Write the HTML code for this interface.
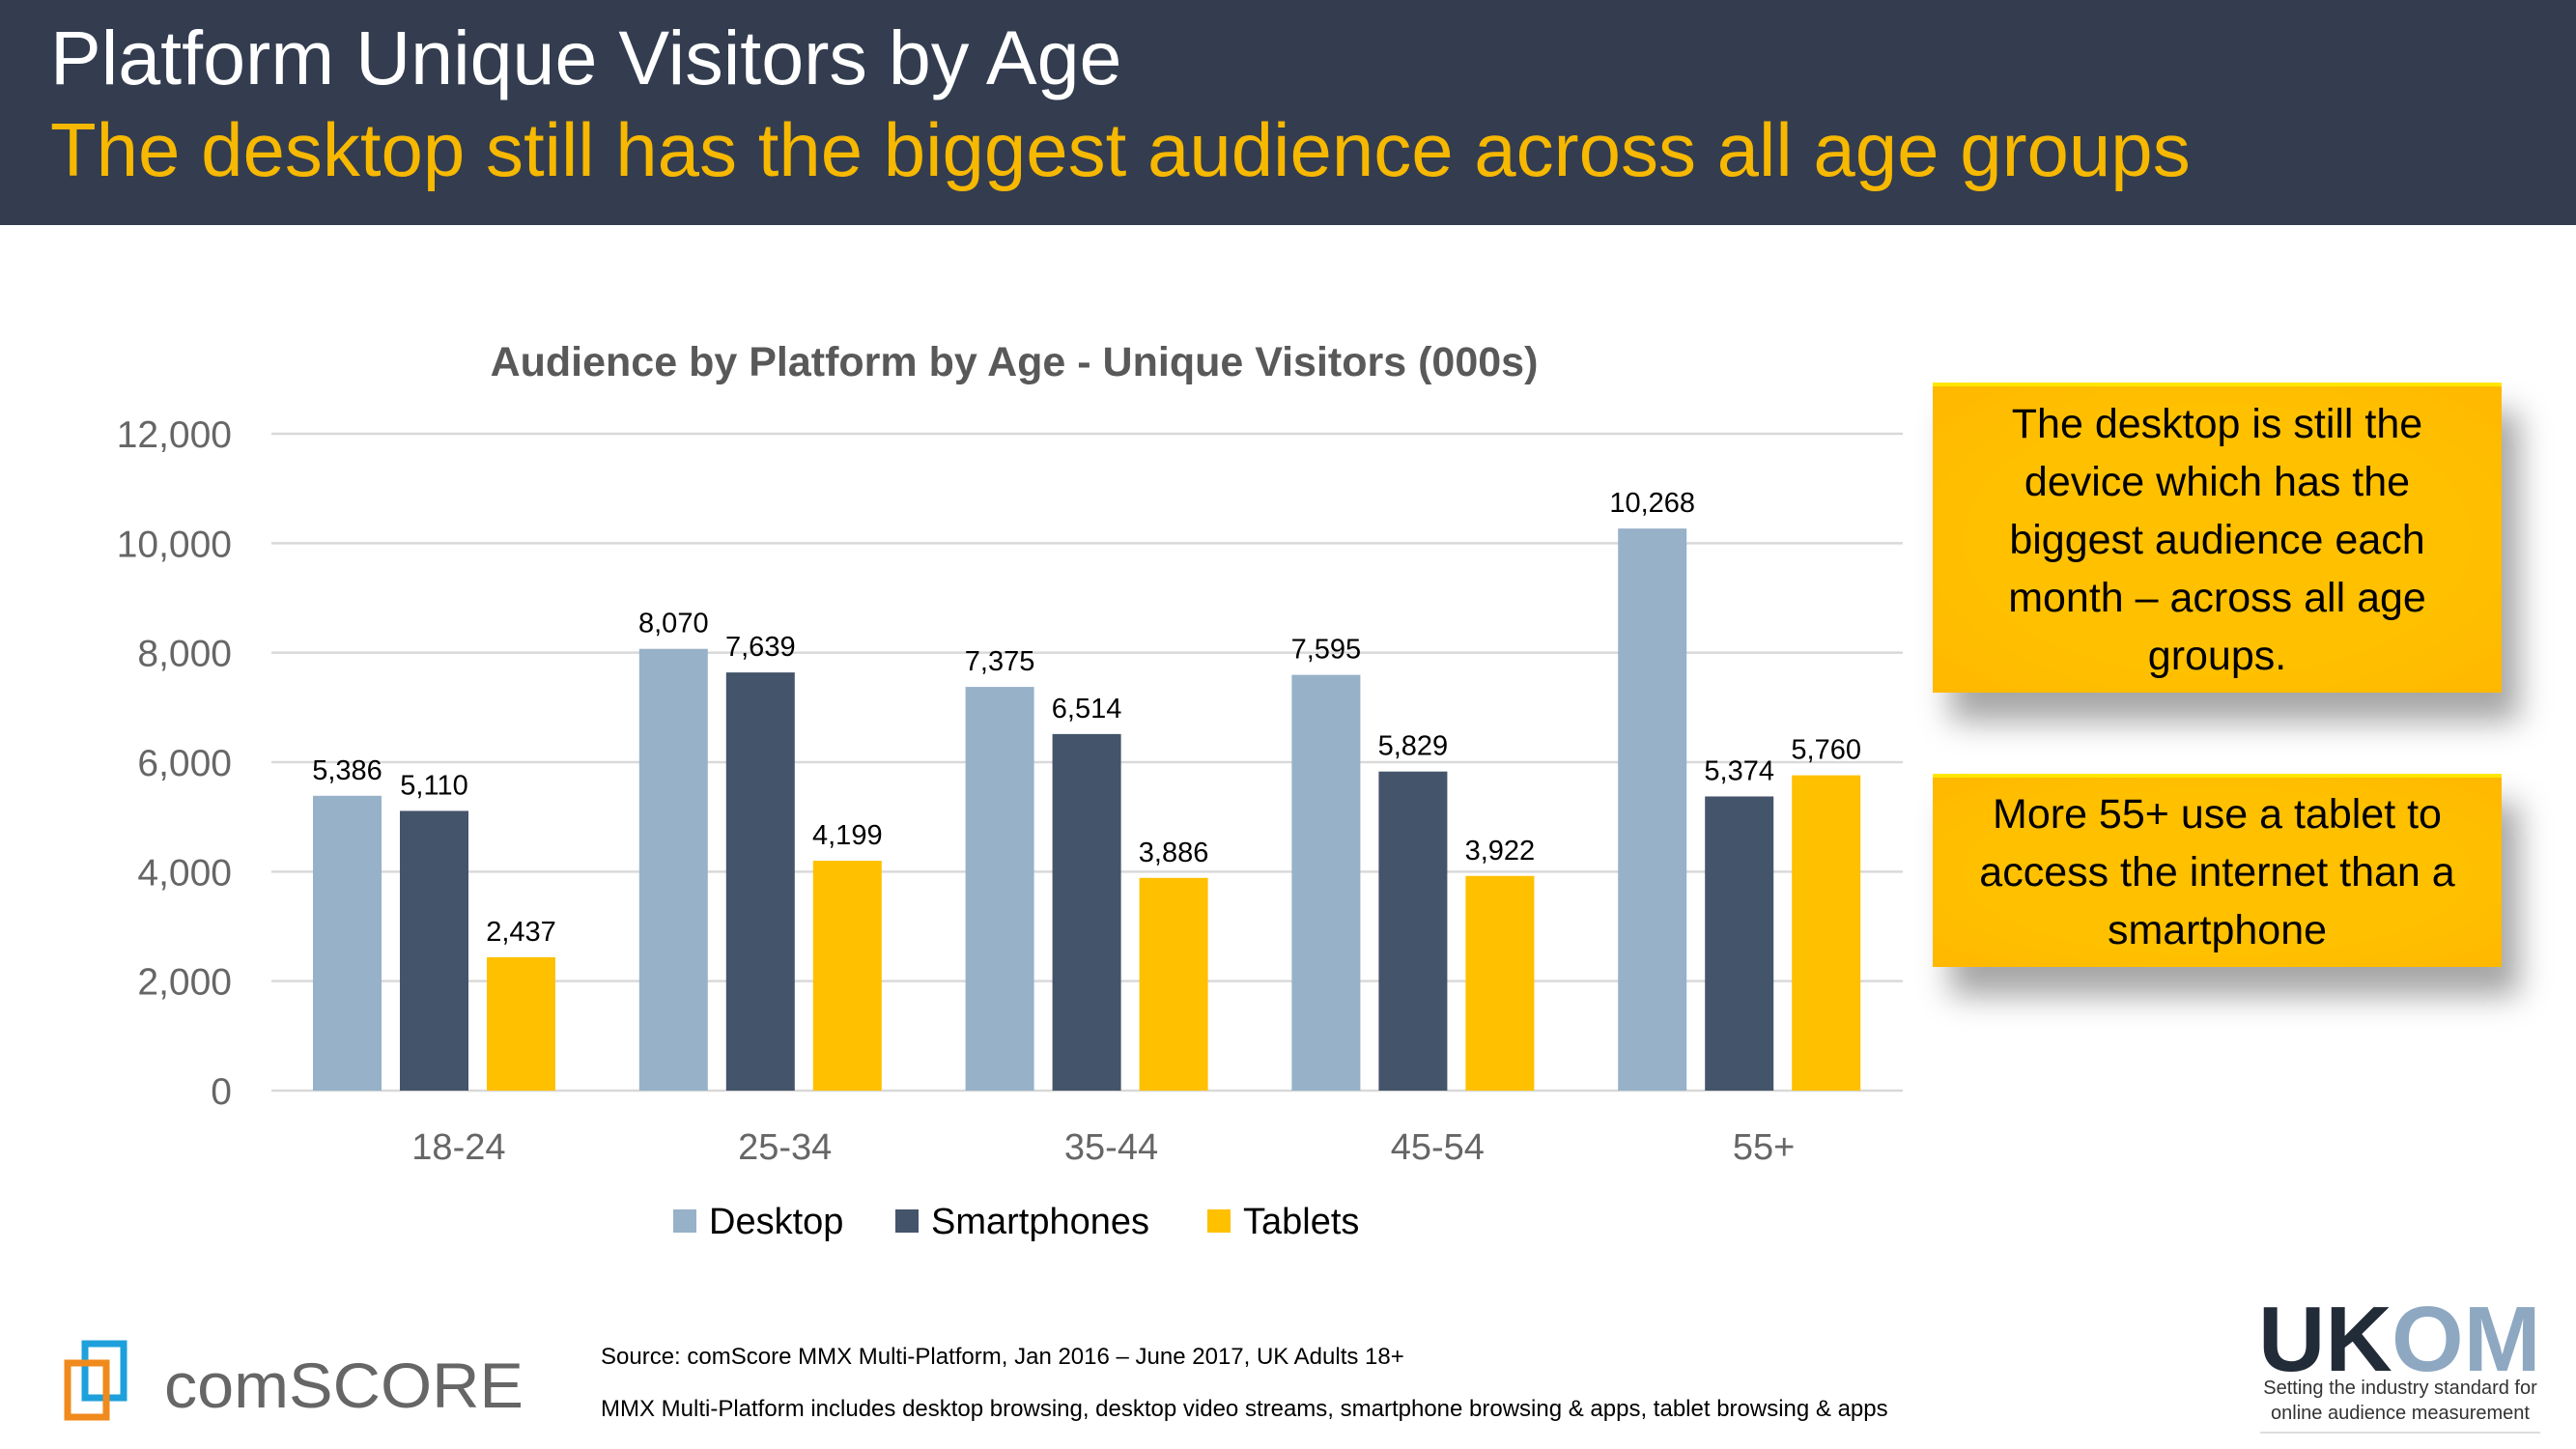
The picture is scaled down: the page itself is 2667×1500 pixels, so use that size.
<!DOCTYPE html>
<html><head><meta charset="utf-8"><style>
html,body{margin:0;padding:0}
body{width:2667px;height:1500px;position:relative;background:#fff;overflow:hidden;font-family:"Liberation Sans",sans-serif}
.hdr{position:absolute;left:0;top:0;width:2667px;height:233px;background:#333d4f}
.t1{position:absolute;left:52px;top:14px;font-size:79px;color:#fff;white-space:nowrap}
.t2{position:absolute;left:52px;top:110px;font-size:78px;color:#f7b800;white-space:nowrap}
.box{position:absolute;left:2001px;width:589px;background:radial-gradient(ellipse at center,#ffc000 60%,#ffb800 100%);box-shadow:18px 30px 30px rgba(0,0,0,0.35);display:flex;align-items:center;justify-content:center;text-align:center;font-size:43px;line-height:60px;color:#000;border-top:4px solid #ffe600}
.foot{position:absolute;left:622px;font-family:"Liberation Sans",Arial,sans-serif;font-size:24px;color:#000;white-space:nowrap}
</style></head><body>
<div class="hdr">
<div class="t1">Platform Unique Visitors by Age</div>
<div class="t2">The desktop still has the biggest audience across all age groups</div>
</div>
<svg id="chart" width="2667" height="1500" style="position:absolute;left:0;top:0"></svg>
<div class="box" style="top:396px;height:317px">The desktop is still the<br>device which has the<br>biggest audience each<br>month – across all age<br>groups.</div>
<div class="box" style="top:801px;height:196px">More 55+ use a tablet to<br>access the internet than a<br>smartphone</div>
<div class="foot" style="top:1391px">Source: comScore MMX Multi-Platform, Jan 2016 – June 2017, UK Adults 18+</div>
<div class="foot" style="top:1445px">MMX Multi-Platform includes desktop browsing, desktop video streams, smartphone browsing &amp; apps, tablet browsing &amp; apps</div>
<svg style="position:absolute;left:60px;top:1385px" width="520" height="90">
<rect x="28" y="6" width="40" height="56" fill="none" stroke="#1ea0dc" stroke-width="7"/>
<rect x="10" y="26" width="40" height="56" fill="none" stroke="#f08a1c" stroke-width="7"/>
<text x="110" y="72" font-family="Liberation Sans" font-size="66" fill="#666" textLength="372" lengthAdjust="spacingAndGlyphs">comSCORE</text>
</svg>
<svg style="position:absolute;left:2330px;top:1335px" width="310" height="150">
<text x="8" y="84" font-family="Liberation Sans" font-weight="bold" font-size="96" fill="#222b38">UK</text>
<text x="146" y="84" font-family="Liberation Sans" font-weight="bold" font-size="96" fill="#8ea8c2">OM</text>
<text x="155" y="108" text-anchor="middle" font-family="Liberation Sans" font-size="20" fill="#333">Setting the industry standard for</text>
<text x="155" y="134" text-anchor="middle" font-family="Liberation Sans" font-size="20" fill="#333">online audience measurement</text>
<line x1="10" y1="148" x2="300" y2="148" stroke="#ddd" stroke-width="2"/>
</svg>
<script>
const categories=["18-24","25-34","35-44","45-54","55+"];
const desktop=[5386,8070,7375,7595,10268];
const smartphones=[5110,7639,6514,5829,5374];
const tablets=[2437,4199,3886,3922,5760];
const yTicks=[0,2000,4000,6000,8000,10000,12000];
const seriesNames=["Desktop","Smartphones","Tablets"];
const colors=["#97b1c9","#44546a","#ffc000"];
const NS="http://www.w3.org/2000/svg";
const svg=document.getElementById("chart");
const x0=281,x1=1970,yTop=449,yBot=1129,yMax=12000;
const y=v=>yBot-(v/yMax)*(yBot-yTop);
const band=(x1-x0)/categories.length;
const bw=71,gap=19;
const x=(ci,si)=>x0+ci*band+43+si*(bw+gap);
function mk(tag,attrs){const e=document.createElementNS(NS,tag);for(const k in attrs)e.setAttribute(k,attrs[k]);svg.appendChild(e);return e;}
const title=mk("text",{x:1050,y:389,"text-anchor":"middle","font-size":43,"font-weight":"bold",fill:"#595959","font-family":"Liberation Sans"});
title.textContent="Audience by Platform by Age - Unique Visitors (000s)";


yTicks.forEach(t=>{
 const g=mk("line",{x1:x0,x2:x1,y1:y(t),y2:y(t),stroke:"#d9d9d9","stroke-width":2.5});
 
 
 const l=mk("text",{x:240,y:y(t)+14,"text-anchor":"end","font-size":39,fill:"#666","font-family":"Liberation Sans"});
 l.textContent=t.toLocaleString("en-US");
 
 
});
const series=[desktop,smartphones,tablets];
series.forEach((s,si)=>{
 s.forEach((v,ci)=>{
  const r=mk("rect",{x:x(ci,si),y:y(v),width:bw,height:yBot-y(v),fill:colors[si]});
  
  
  const t=mk("text",{x:x(ci,si)+bw/2,y:y(v)-17,"text-anchor":"middle","font-size":29,fill:"#000","font-family":"Liberation Sans"});
  t.textContent=v.toLocaleString("en-US");
  
  
 });
});
categories.forEach((c,ci)=>{
 const t=mk("text",{x:x0+ci*band+band/2+25,y:1200,"text-anchor":"middle","font-size":38,fill:"#666","font-family":"Liberation Sans"});
 t.textContent=c;
 
 
});
const legX=[697,927,1250];
seriesNames.forEach((n,i)=>{
 const r=mk("rect",{x:legX[i],y:1252,width:24,height:24,fill:colors[i]});
 
 
 const t=mk("text",{x:legX[i]+37,y:1277,"font-size":38,fill:"#000","font-family":"Liberation Sans"});
 t.textContent=n;
 
 
});
</script>
</body></html>
